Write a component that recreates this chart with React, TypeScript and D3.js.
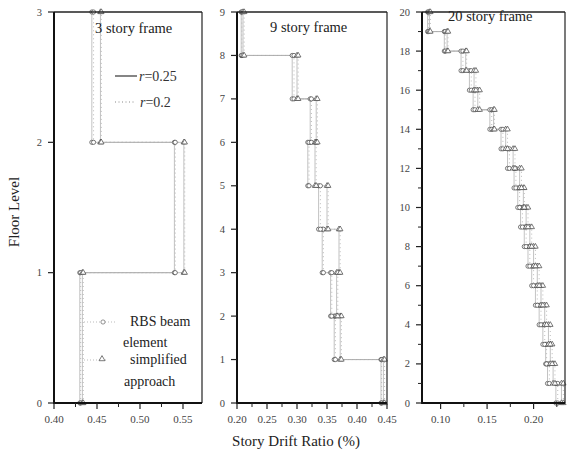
import React from "react";
import * as d3 from "d3";

// ---- Data: story drift ratio (%) for each story (1..N) ----
const p1RbsR25 = [0.430, 0.540, 0.444];
const p1RbsR20 = [0.431, 0.541, 0.446];
const p1SimR25 = [0.433, 0.551, 0.454];
const p1SimR20 = [0.434, 0.552, 0.455];

const p2RbsR25 = [0.440, 0.362, 0.356, 0.342, 0.336, 0.318, 0.322, 0.292, 0.207];
const p2RbsR20 = [0.441, 0.364, 0.358, 0.344, 0.339, 0.320, 0.324, 0.295, 0.208];
const p2SimR25 = [0.444, 0.372, 0.366, 0.370, 0.350, 0.330, 0.332, 0.300, 0.210];
const p2SimR20 = [0.446, 0.374, 0.368, 0.372, 0.352, 0.332, 0.334, 0.302, 0.212];

const p3RbsR25 = [0.224, 0.215, 0.213, 0.210, 0.206, 0.202, 0.198, 0.194, 0.190, 0.186, 0.183, 0.179, 0.172, 0.165, 0.153, 0.135, 0.131, 0.122, 0.104, 0.086];
const p3RbsR20 = [0.226, 0.217, 0.214, 0.212, 0.208, 0.204, 0.200, 0.196, 0.192, 0.188, 0.185, 0.181, 0.174, 0.167, 0.155, 0.137, 0.133, 0.124, 0.105, 0.087];
const p3SimR25 = [0.230, 0.221, 0.218, 0.216, 0.212, 0.208, 0.204, 0.200, 0.196, 0.192, 0.189, 0.185, 0.178, 0.170, 0.157, 0.140, 0.136, 0.127, 0.107, 0.088];
const p3SimR20 = [0.232, 0.223, 0.220, 0.218, 0.214, 0.210, 0.206, 0.202, 0.198, 0.194, 0.190, 0.187, 0.180, 0.172, 0.158, 0.142, 0.138, 0.128, 0.108, 0.089];

const p1XTicks = [0.40, 0.45, 0.50, 0.55];
const p2XTicks = [0.20, 0.25, 0.30, 0.35, 0.40, 0.45];
const p3XTicks = [0.10, 0.15, 0.20];
const p1YTicks = [0, 1, 2, 3];
const p2YTicks = [0, 1, 2, 3, 4, 5, 6, 7, 8, 9];
const p3YTicks = [0, 2, 4, 6, 8, 10, 12, 14, 16, 18, 20];

const titles = ["3 story frame", "9 story frame", "20 story frame"];
const legendLines = ["r=0.25", "r=0.2"];
const legendMarkers = [["RBS beam", "element"], ["simplified", "approach"]];

const FONT = "'Liberation Serif', 'DejaVu Serif', serif";
const TOP = 12;
const BOTTOM = 403;

type Panel = {
  x0: number; x1: number; dom: [number, number]; floors: number;
  xTicks: number[]; xMinor: number[]; yTicks: number[]; yMinor: number[];
  series: { d: number[]; solid: boolean; marker: "c" | "t" }[];
  title: string; tx: number; ty: number;
};

const mk = (r25: number[], r20: number[], s25: number[], s20: number[]) => [
  { d: r25, solid: true, marker: "c" as const },
  { d: r20, solid: false, marker: "c" as const },
  { d: s25, solid: true, marker: "t" as const },
  { d: s20, solid: false, marker: "t" as const },
];

const panels: Panel[] = [
  {
    x0: 54, x1: 202, dom: [0.40, 0.5721], floors: 3,
    xTicks: p1XTicks, xMinor: [0.425, 0.475, 0.525], yTicks: p1YTicks, yMinor: [],
    series: mk(p1RbsR25, p1RbsR20, p1SimR25, p1SimR20),
    title: titles[0], tx: 95, ty: 33,
  },
  {
    x0: 237, x1: 387, dom: [0.20, 0.45], floors: 9,
    xTicks: p2XTicks, xMinor: [0.225, 0.275, 0.325, 0.375, 0.425], yTicks: p2YTicks, yMinor: [],
    series: mk(p2RbsR25, p2RbsR20, p2SimR25, p2SimR20),
    title: titles[1], tx: 270, ty: 32,
  },
  {
    x0: 422, x1: 565, dom: [0.08, 0.2338], floors: 20,
    xTicks: p3XTicks, xMinor: [0.125, 0.175, 0.225],
    yTicks: p3YTicks, yMinor: [1, 3, 5, 7, 9, 11, 13, 15, 17, 19],
    series: mk(p3RbsR25, p3RbsR20, p3SimR25, p3SimR20),
    title: titles[2], tx: 448, ty: 21,
  },
];

function PanelView({ p }: { p: Panel }) {
  const x = d3.scaleLinear().domain(p.dom).range([p.x0, p.x1]);
  const y = d3.scaleLinear().domain([0, p.floors]).range([BOTTOM, TOP]);
  const line = d3.line<[number, number]>().x((v) => x(v[0])).y((v) => y(v[1]));
  const tri = d3.symbol().type(d3.symbolTriangle).size(13)();
  return (
    <g>
      {/* series */}
      {p.series.map((s, si) => {
        const pts: [number, number][] = [];
        s.d.forEach((v, i) => { pts.push([v, i]); pts.push([v, i + 1]); });
        return (
          <path key={"l" + si} d={line(pts) || ""} fill="none" stroke={s.solid ? "#a8a8a8" : "#b4b4b4"} strokeWidth={s.solid ? 0.7 : 0.9} strokeDasharray={s.solid ? undefined : "1,3"} />
        );
      })}
      {p.series.map((s, si) => {
        const pts: [number, number][] = [];
        s.d.forEach((v, i) => { pts.push([v, i]); pts.push([v, i + 1]); });
        return (
          <g key={"m" + si}>
            {pts.map((q, k) => s.marker === "c" ? (
              <circle key={k} cx={x(q[0])} cy={y(q[1])} r={2.1} fill="#fff" stroke="#444" strokeWidth={0.7} />
            ) : (
              <path key={k} d={tri || ""} transform={`translate(${x(q[0])},${y(q[1])})`} fill="#fff" stroke="#444" strokeWidth={0.7} />
            ))}
          </g>
        );
      })}
      {/* frame */}
      <line x1={p.x0} x2={p.x1} y1={TOP} y2={TOP} stroke="#222" strokeWidth={1.4} />
      <line x1={p.x1} x2={p.x1} y1={TOP} y2={BOTTOM} stroke="#222" strokeWidth={1.2} />
      <line x1={p.x0} x2={p.x0} y1={TOP} y2={BOTTOM + 1} stroke="#111" strokeWidth={2} />
      <line x1={p.x0 - 1} x2={p.x1} y1={BOTTOM} y2={BOTTOM} stroke="#111" strokeWidth={2} />
      {/* y ticks */}
      {p.yTicks.map((t) => (
        <g key={"y" + t}>
          <line x1={p.x0 - 6} x2={p.x0} y1={y(t)} y2={y(t)} stroke="#222" strokeWidth={1.2} />
          <text x={p.x0 - 12} y={y(t) + 3.5} textAnchor="end" fontSize={10.5} fill="#444" fontFamily={FONT}>{t}</text>
        </g>
      ))}
      {p.yMinor.map((t) => (
        <line key={"ym" + t} x1={p.x0 - 4} x2={p.x0} y1={y(t)} y2={y(t)} stroke="#222" strokeWidth={1} />
      ))}
      {/* x ticks */}
      {p.xTicks.map((t) => (
        <g key={"x" + t}>
          <line x1={x(t)} x2={x(t)} y1={BOTTOM} y2={BOTTOM + 6} stroke="#222" strokeWidth={1.2} />
          <text x={x(t)} y={BOTTOM + 20} textAnchor="middle" fontSize={11} fill="#444" fontFamily={FONT}>{t.toFixed(2)}</text>
        </g>
      ))}
      {p.xMinor.map((t) => (
        <line key={"xm" + t} x1={x(t)} x2={x(t)} y1={BOTTOM} y2={BOTTOM + 4} stroke="#222" strokeWidth={1} />
      ))}
      <text x={p.tx} y={p.ty} fontSize={14.5} fill="#222" fontFamily={FONT}>{p.title}</text>
    </g>
  );
}

export default function App() {
  const tri = d3.symbol().type(d3.symbolTriangle).size(15)();
  return (
    <svg width={567} height={459} style={{ display: "block", position: "absolute", left: 0, top: 0, background: "#fff" }}>
      <rect width={567} height={459} fill="#fff" />
      {panels.map((p, i) => <PanelView key={i} p={p} />)}
      {/* legend: line styles */}
      <line x1={115} x2={137} y1={76} y2={76} stroke="#333" strokeWidth={1.2} />
      <text x={139} y={81} fontSize={14} fill="#333" fontFamily={FONT}><tspan fontStyle="italic">r</tspan>{legendLines[0].slice(1)}</text>
      <line x1={115} x2={136} y1={102} y2={102} stroke="#888" strokeWidth={1} strokeDasharray="1,2.5" />
      <text x={140} y={107} fontSize={14} fill="#333" fontFamily={FONT}><tspan fontStyle="italic">r</tspan>{legendLines[1].slice(1)}</text>
      {/* legend: markers */}
      <line x1={84} x2={116} y1={322} y2={322} stroke="#aaa" strokeWidth={0.8} strokeDasharray="1,2" />
      <circle cx={103} cy={322} r={2.1} fill="#fff" stroke="#666" strokeWidth={0.7} />
      <text x={130} y={326} fontSize={14} fill="#222" fontFamily={FONT}>{legendMarkers[0][0]}</text>
      <text x={123} y={347} fontSize={14} fill="#222" fontFamily={FONT}>{legendMarkers[0][1]}</text>
      <line x1={84} x2={106} y1={360} y2={360} stroke="#aaa" strokeWidth={0.8} strokeDasharray="1,2" />
      <path d={tri || ""} transform="translate(102,359)" fill="#fff" stroke="#444" strokeWidth={0.7} />
      <text x={130} y={364} fontSize={14} fill="#222" fontFamily={FONT}>{legendMarkers[1][0]}</text>
      <text x={124} y={386} fontSize={14} fill="#222" fontFamily={FONT}>{legendMarkers[1][1]}</text>
      {/* axis titles */}
      <text transform="translate(19,212) rotate(-90)" textAnchor="middle" fontSize={15} fill="#222" fontFamily={FONT}>Floor Level</text>
      <text x={296} y={446} textAnchor="middle" fontSize={15} fill="#222" fontFamily={FONT}>Story Drift Ratio (%)</text>
    </svg>
  );
}
